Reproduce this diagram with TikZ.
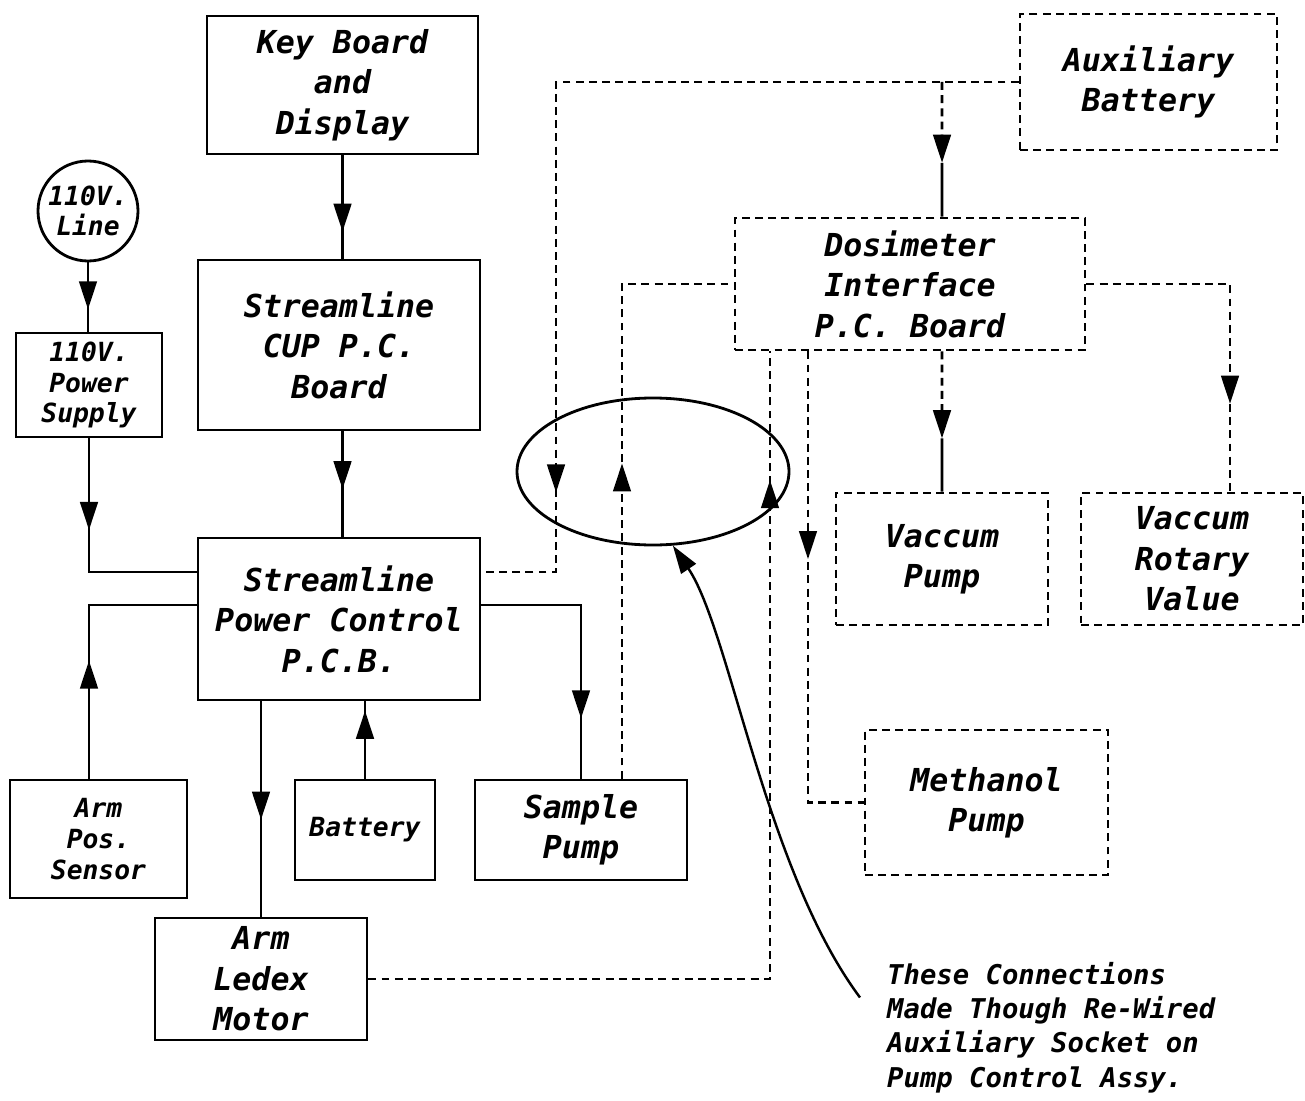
\documentclass[tikz,border=0pt]{standalone}
\usepackage{fontspec}
\newfontfamily\plotfont{DejaVu Sans Mono}
\usetikzlibrary{arrows.meta, positioning, calc, decorations.markings, shapes.geometric}

\begin{document}
\begin{tikzpicture}[
    box/.style={draw, line width=1.6pt, align=center, inner sep=2pt, font=\plotfont\bfseries\itshape\fontsize{18}{23}\selectfont},
    smallbox/.style={box, font=\plotfont\bfseries\itshape\fontsize{15}{17.5}\selectfont},
    dbox/.style={box, dash pattern=on 4.5pt off 3pt},
    wire/.style={line width=1.6pt},
    dwire/.style={wire, dash pattern=on 4.5pt off 3pt},
    arrowend/.style={-{Triangle[length=16pt, width=10pt]}},
    midarr/.style={postaction={decorate}, decoration={markings, mark=at position #1 with {\arrow{Triangle[length=16pt, width=10pt]}}}},
]
\useasboundingbox (0,0) rectangle (26.1,-22);

% Mains side and controller stack
\node[smallbox, circle, minimum size=2cm, inner sep=0pt] (line) at (1.76,-4.22) {110V.\\Line};
\node[smallbox, minimum width=2.92cm, minimum height=2.08cm] (supply) at (1.78,-7.70) {110V.\\Power\\Supply};
\node[box, minimum width=5.42cm, minimum height=2.76cm] (keyboard) at (6.85,-1.70) {Key Board\\and\\Display};
\node[box, minimum width=5.64cm, minimum height=3.40cm] (cup) at (6.78,-6.90) {Streamline\\CUP P.C.\\Board};
\node[box, minimum width=5.64cm, minimum height=3.24cm] (pcb) at (6.78,-12.38) {Streamline\\Power Control\\P.C.B.};

% Units under the power control board
\node[smallbox, minimum width=3.54cm, minimum height=2.36cm] (armsensor) at (1.97,-16.78) {Arm\\Pos.\\Sensor};
\node[smallbox, minimum width=2.80cm, minimum height=2.00cm] (battery) at (7.30,-16.60) {Battery};
\node[box, minimum width=4.24cm, minimum height=2.00cm] (sample) at (11.62,-16.60) {Sample\\Pump};
\node[box, minimum width=4.24cm, minimum height=2.44cm] (ledex) at (5.22,-19.58) {Arm\\Ledex\\Motor};

% Dosimeter side (dashed)
\node[dbox, minimum width=5.14cm, minimum height=2.72cm] (auxbatt) at (22.97,-1.64) {Auxiliary\\Battery};
\node[dbox, minimum width=7.00cm, minimum height=2.64cm] (dosim) at (18.20,-5.68) {Dosimeter\\Interface\\P.C. Board};
\node[dbox, minimum width=4.24cm, minimum height=2.64cm] (vpump) at (18.84,-11.18) {Vaccum\\Pump};
\node[dbox, minimum width=4.44cm, minimum height=2.64cm] (vrotary) at (23.84,-11.18) {Vaccum\\Rotary\\Value};
\node[dbox, minimum width=4.86cm, minimum height=2.90cm] (methanol) at (19.73,-16.05) {Methanol\\Pump};

% Auxiliary socket and its note
\node[draw, ellipse, line width=1.6pt, minimum width=5.44cm, minimum height=2.94cm, inner sep=0pt] (socket) at (13.06,-9.43) {};
\node[font=\plotfont\bfseries\itshape\fontsize{15.5}{19.5}\selectfont, align=left, anchor=north west] (note) at (17.62,-19.12) {These Connections\\Made Though Re-Wired\\Auxiliary Socket on\\Pump Control Assy.};
\coordinate (notetail) at (17.20,-19.95);
\coordinate (auxdrop) at (11.12,-11.44);

% Solid wiring
\draw[wire, midarr=0.74] (keyboard.south) -- (keyboard.south |- cup.north);
\draw[wire, midarr=0.55] (keyboard.south |- cup.south) -- (keyboard.south |- pcb.north);
\draw[wire, midarr=0.68] (line.south) -- (line.south |- supply.north);
\draw[wire, midarr=0.38] (supply.south) |- ([yshift=0.94cm]pcb.west);
\draw[wire, midarr=0.42] (armsensor.north -| supply.south) |- ([yshift=0.28cm]pcb.west);
\draw[wire, midarr=0.88] (battery.north) -- (battery.north |- pcb.south);
\draw[wire, midarr=0.55] (ledex.north |- pcb.south) -- (ledex.north);
\draw[wire, midarr=0.78] ([yshift=0.28cm]pcb.east) -| (sample.north);

% Dashed wiring through the socket
\draw[dwire, midarr=0.85] (auxbatt.west) -| (auxdrop) -- ([yshift=0.94cm]pcb.east);
\draw[dwire, midarr=0.52] ([xshift=0.82cm]sample.north) |- (dosim.west);
\draw[dwire, midarr=0.875] (ledex.east) -| ([xshift=-2.80cm]dosim.south);
\draw[dwire, midarr=0.41] ([xshift=-2.04cm]dosim.south) |- (methanol.west);
\draw[dwire, midarr=0.75] (dosim.east) -| ([xshift=0.76cm]vrotary.north);

% Dashed down to the arrow, solid after it
\draw[dwire, arrowend] (auxbatt.west -| vpump.north) -- ($(auxbatt.west -| vpump.north)!0.6!(dosim.north -| vpump.north)$) coordinate (auxmid);
\draw[wire] (auxmid) -- (dosim.north -| vpump.north);
\draw[dwire, arrowend] (dosim.south -| vpump.north) -- ($(dosim.south -| vpump.north)!0.62!(vpump.north)$) coordinate (vmid);
\draw[wire] (vmid) -- (vpump.north);

% Note arrow
\draw[line width=1.4pt, arrowend] (notetail) .. controls (15.30,-17.40) and (14.60,-12.60) .. (socket.-75);

\end{tikzpicture}
\end{document}
